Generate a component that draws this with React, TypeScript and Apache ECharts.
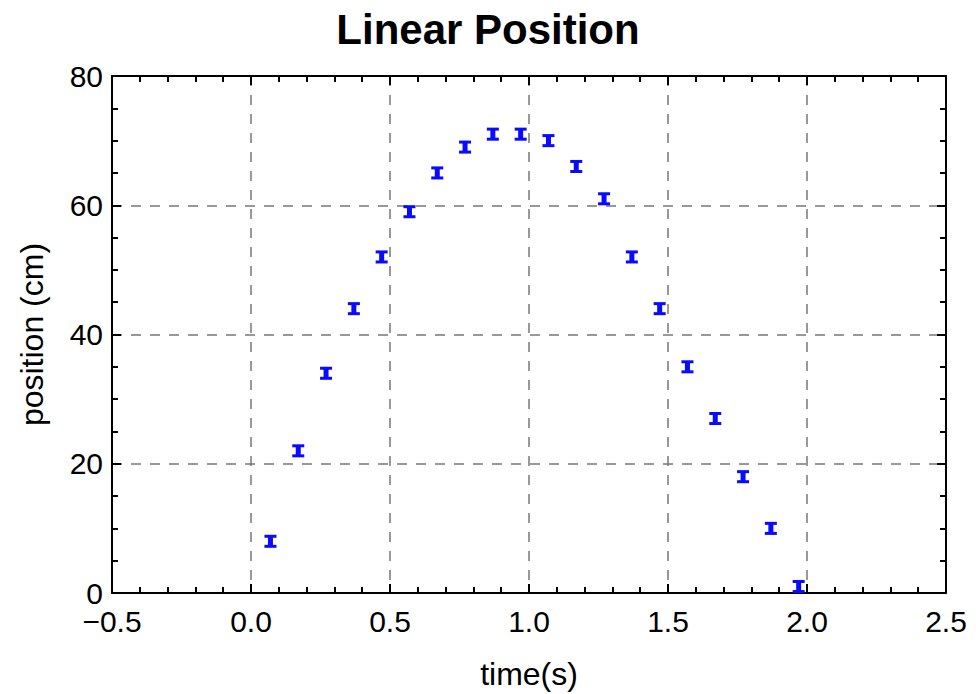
import React, { useEffect, useRef } from "react";
import * as echarts from "echarts";

const timeValues = [0.07, 0.17, 0.27, 0.37, 0.47, 0.57, 0.67, 0.77, 0.87, 0.97, 1.07, 1.17, 1.27, 1.37, 1.47, 1.57, 1.67, 1.77, 1.87, 1.97];
const positionValues = [8, 22, 34, 44, 52, 59, 65, 69, 71, 71, 70, 66, 61, 52, 44, 35, 27, 18, 10, 1];
const positionError = 0.7;
const title = "Linear Position";
const xName = "time(s)";
const yName = "position (cm)";

export default function App() {
  const ref = useRef<HTMLDivElement>(null);
  useEffect(() => {
    if (!ref.current) return;
    const chart = echarts.init(ref.current, null, { renderer: "svg" });
    const data = timeValues.map((t, i) => [t, positionValues[i], positionValues[i] - positionError, positionValues[i] + positionError]);
    const font = "Liberation Sans, Arial, sans-serif";
    const fmt = (v: number) => v.toFixed(1).replace("-", "\u2212");
    const axisLine = { show: true, onZero: false, lineStyle: { color: "#000", width: 2 } };
    const tick = { show: true, inside: true, length: 9, lineStyle: { color: "#000", width: 2 } };
    const grid = { show: true, lineStyle: { color: "#777", type: [10, 9], width: 1.5 } };
    const labelFont = { fontFamily: font, fontSize: 30, color: "#000" };
    const nameFont = { fontFamily: font, fontSize: 32, color: "#000" };
    chart.setOption({
      animation: false,
      backgroundColor: "#fff",
      title: {
        text: title,
        left: "center",
        top: 3,
        textStyle: { fontFamily: font, fontSize: 42, fontWeight: "bold", color: "#000" },
      },
      grid: { left: 112, top: 76, right: 30, bottom: 101, outerBoundsMode: "none", containLabel: false },
      xAxis: [
        {
          type: "value",
          min: -0.5,
          max: 2.5,
          interval: 0.5,
          name: xName,
          nameLocation: "middle",
          nameGap: 65,
          nameTextStyle: { ...nameFont, lineHeight: 32 },
          axisLine,
          axisTick: tick,
          minorTick: { show: true, splitNumber: 5, length: 6, lineStyle: { color: "#000", width: 2 } },
          axisLabel: { ...labelFont, lineHeight: 26, margin: 15, formatter: fmt },
          splitLine: grid,
        },
        {
          type: "value",
          position: "top",
          min: -0.5,
          max: 2.5,
          interval: 0.5,
          axisLine,
          axisTick: tick,
          minorTick: { show: true, splitNumber: 5, length: 6, lineStyle: { color: "#000", width: 2 } },
          axisLabel: { show: false },
          splitLine: { show: false },
        },
      ],
      yAxis: [
        {
          type: "value",
          min: 0,
          max: 80,
          interval: 20,
          name: yName,
          nameLocation: "middle",
          nameGap: 64,
          nameTextStyle: nameFont,
          axisLine,
          axisTick: tick,
          minorTick: { show: true, splitNumber: 4, length: 6, lineStyle: { color: "#000", width: 2 } },
          axisLabel: { ...labelFont, lineHeight: 22, margin: 9, padding: [0, 0, 5, 0] },
          splitLine: grid,
        },
        {
          type: "value",
          position: "right",
          min: 0,
          max: 80,
          interval: 20,
          axisLine,
          axisTick: tick,
          minorTick: { show: true, splitNumber: 4, length: 6, lineStyle: { color: "#000", width: 2 } },
          axisLabel: { show: false },
          splitLine: { show: false },
        },
      ],
      series: [
        {
          type: "custom",
          xAxisIndex: 0,
          yAxisIndex: 0,
          data,
          encode: { x: 0, y: [1, 2, 3] },
          renderItem: (params: any, api: any) => {
            const x = api.value(0);
            const lo = api.coord([x, api.value(2)]);
            const hi = api.coord([x, api.value(3)]);
            const hw = 6;
            const style = { stroke: "#0a0aff", lineWidth: 3 };
            return {
              type: "group",
              children: [
                { type: "line", shape: { x1: lo[0], y1: hi[1], x2: lo[0], y2: lo[1] }, style: { stroke: "#0a0aff", lineWidth: 5 } },
                { type: "line", shape: { x1: lo[0] - hw, y1: hi[1] - 0.5, x2: lo[0] + hw, y2: hi[1] - 0.5 }, style },
                { type: "line", shape: { x1: lo[0] - hw, y1: lo[1] + 0.5, x2: lo[0] + hw, y2: lo[1] + 0.5 }, style },
              ],
            };
          },
        },
      ],
    });
    return () => chart.dispose();
  }, []);
  return <div ref={ref} style={{ position: "fixed", left: 0, top: 0, width: 976, height: 694 }} />;
}
